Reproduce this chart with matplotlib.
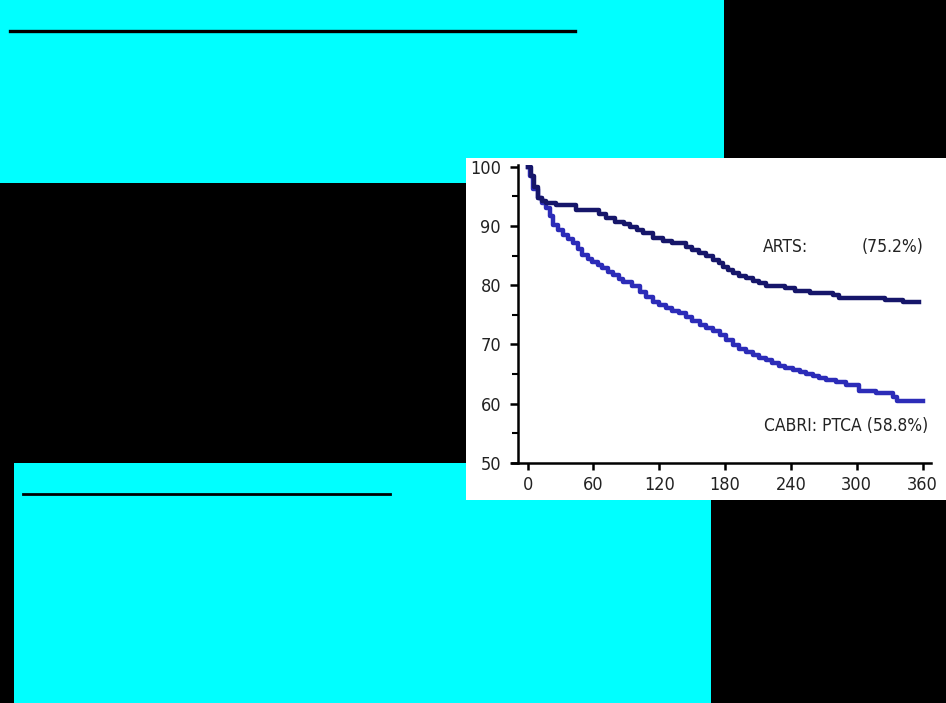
import matplotlib
matplotlib.use('Agg')
import matplotlib.pyplot as plt
from matplotlib.patches import Rectangle
from matplotlib.lines import Line2D

# Curve data (days, percent event-free)
arts_days = [0, 3, 6, 9, 13, 17, 26, 44, 65, 71, 80, 88, 93, 100, 105, 114, 123, 132, 144,
             150, 156, 163, 169, 174, 178, 183, 187, 193, 199, 205, 211, 217, 235, 244, 257,
             278, 284, 320, 326, 342, 357]
arts_pct = [100, 98.5, 96.5, 94.7, 94.2, 93.8, 93.5, 92.7, 92.0, 91.3, 90.7, 90.3, 89.9, 89.3,
            88.8, 87.9, 87.5, 87.1, 86.5, 86.0, 85.4, 84.9, 84.3, 83.7, 83.1, 82.5, 82.0, 81.6,
            81.2, 80.7, 80.3, 79.8, 79.5, 79.0, 78.7, 78.4, 77.9, 77.9, 77.5, 77.2, 77.1]

cabri_days = [0, 2, 5, 9, 13, 17, 20, 23, 28, 32, 37, 41, 46, 50, 55, 59, 64, 68, 73, 78, 83,
              87, 95, 102, 108, 114, 120, 126, 132, 138, 144, 150, 157, 163, 169, 175, 181,
              187, 193, 199, 205, 211, 217, 223, 229, 235, 242, 248, 254, 260, 266, 272, 281,
              290, 302, 318, 333, 337, 360]
cabri_pct = [100, 98.5, 96.3, 94.7, 93.8, 93.0, 91.6, 90.2, 89.3, 88.5, 87.8, 87.1, 86.1, 85.1,
             84.5, 84.0, 83.4, 82.9, 82.3, 81.7, 81.1, 80.6, 79.8, 78.9, 78.0, 77.2, 76.6, 76.1,
             75.7, 75.3, 74.6, 73.9, 73.3, 72.8, 72.2, 71.6, 70.8, 69.9, 69.3, 68.8, 68.2, 67.7,
             67.3, 66.9, 66.4, 66.0, 65.7, 65.4, 65.0, 64.6, 64.3, 64.0, 63.6, 63.2, 62.1, 61.8,
             61.2, 60.4, 60.4]

x_ticks = [0, 60, 120, 180, 240, 300, 360]
y_ticks = [50, 60, 70, 80, 90, 100]

W, H = 946, 703
fig = plt.figure(figsize=(W / 100, H / 100), dpi=100)
fig.patch.set_facecolor('black')


def box(x0, y0, x1, y1, color, z):
    # pixel box (top-left origin) -> figure fraction
    fig.add_artist(Rectangle((x0 / W, 1 - y1 / H), (x1 - x0) / W, (y1 - y0) / H,
                             transform=fig.transFigure, facecolor=color,
                             edgecolor='none', zorder=z))


def hline(x0, x1, y, lw):
    fig.add_artist(Line2D([x0 / W, x1 / W], [1 - y / H, 1 - y / H],
                          transform=fig.transFigure, color='black', lw=lw, zorder=-5))


cyan = '#00ffff'
box(0, 0, 724, 183, cyan, -10)
box(14, 463, 711, 703, cyan, -10)
box(466, 158, 946, 500, 'white', -8)
hline(10, 575, 31, 2.4)
hline(23, 390, 494, 2.0)

txt = '#222222'
fkw = dict(family='DejaVu Sans', stretch='condensed', color=txt)

ax = fig.add_axes([512.3 / W, (H - 463) / H, 419 / W, 298.1 / H])
ax.set_facecolor('none')
ax.plot(arts_days, arts_pct, drawstyle='steps-post', color='#16166a', lw=3.2, zorder=3)
ax.plot(cabri_days, cabri_pct, drawstyle='steps-post', color='#2c2cb8', lw=3.2, zorder=2)

ax.set_xlim(-14, 368)
ax.set_ylim(50, 100.3)
ax.spines['top'].set_visible(False)
ax.spines['right'].set_visible(False)
ax.spines['left'].set_position(('data', -9))
ax.spines['left'].set_linewidth(1.8)
ax.spines['bottom'].set_linewidth(1.8)
ax.set_xticks(x_ticks)
ax.set_yticks(y_ticks)
ax.set_yticks([55, 65, 75, 85, 95], minor=True)
ax.tick_params(axis='y', which='major', length=6, width=1.8, pad=6, labelsize=13)
ax.tick_params(axis='y', which='minor', length=4, width=1.5)
ax.tick_params(axis='x', which='major', length=5, width=1.8, pad=4, labelsize=13)
for lab in ax.get_xticklabels() + ax.get_yticklabels():
    lab.set_family('DejaVu Sans')
    lab.set_stretch('condensed')
    lab.set_color(txt)

ax.text(214, 86.5, 'ARTS:', fontsize=12.5, va='center', ha='left', **fkw)
ax.text(361, 86.5, '(75.2%)', fontsize=12.5, va='center', ha='right', **fkw)
ax.text(215.5, 56.2, 'CABRI: PTCA (58.8%)', fontsize=12.5, va='center', ha='left', **fkw)

fig.savefig('out.png', dpi=100, facecolor=fig.get_facecolor())
